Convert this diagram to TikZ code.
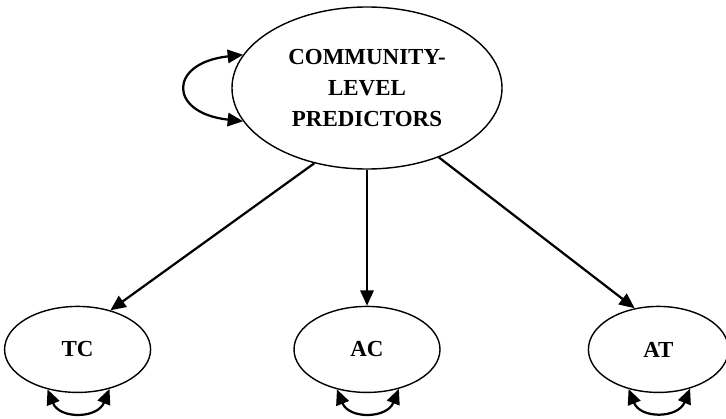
\documentclass[tikz,border=0pt]{standalone}
\usepackage{fontspec}
\setmainfont{Liberation Serif}
\usetikzlibrary{arrows.meta}
\usetikzlibrary{positioning}
\usetikzlibrary{shapes.geometric}

\begin{document}
\begin{tikzpicture}
    [x=0.03cm, y=-0.03cm,
      % Stil für latente Variablen
      lv/.style={ellipse, draw, line width=1.2pt, inner sep=0pt, minimum width=4.38cm, minimum height=2.58cm, font=\fontsize{19.6}{26.5}\selectfont\bfseries},
      big/.style={lv, minimum width=8.1cm, minimum height=4.86cm, align=center},
      % Stil für Pfeile
      pfeil/.style={-{Triangle[length=4.6mm,width=4mm]}, line width=1.9pt},
      schleife/.style={{Triangle[length=4.6mm,width=4mm]}-{Triangle[length=4.6mm,width=4mm]}, line width=1.9pt},
      node distance=4.08cm]
    \useasboundingbox (0,0) rectangle (726,419);
    % Knoten
    \node[big] (comm) at (367,88) {COMMUNITY-\\LEVEL\\PREDICTORS};
    \node[lv, below=of comm] (ac) {AC};
    \node[lv, left=4.26cm of ac] (tc) {TC};
    \node[lv, minimum width=4.2cm, right=4.41cm of ac] (att) {AT};

    % Kanten
    \path[pfeil]
      (comm.235) edge (tc.50)
      (comm) edge (ac)
      (comm.316) edge (att.120);

    % Varianzen
    \draw[schleife] (comm.165) .. controls +(-75,8) and +(-75,-8) .. (comm.195);
    \draw[schleife] (tc.233) .. controls +(12,30) and +(-12,30) .. (tc.309);
    \draw[schleife] (ac.233) .. controls +(12,30) and +(-12,30) .. (ac.309);
    \draw[schleife] (att.233) .. controls +(12,30) and +(-12,30) .. (att.309);
\end{tikzpicture}
\end{document}
